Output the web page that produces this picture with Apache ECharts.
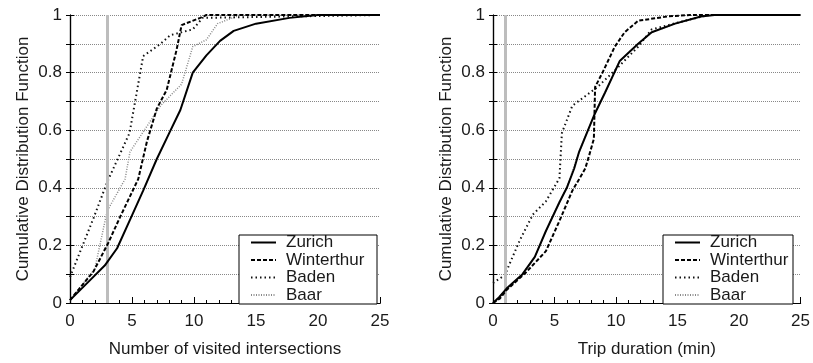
<!DOCTYPE html>
<html><head><meta charset="utf-8">
<script src="https://cdn.jsdelivr.net/npm/echarts@6/dist/echarts.min.js"></script>
<style>html,body{margin:0;padding:0;background:#fff}#c{width:813px;height:363px}</style>
</head><body><div id="c"></div>
<script>
// ---- Data: left panel (Number of visited intersections)
const seriesNames = ['Zurich', 'Winterthur', 'Baden', 'Baar'];
const xTicks = [0, 5, 10, 15, 20, 25];
const yTicks = [0, 0.2, 0.4, 0.6, 0.8, 1];

const zurichX1 = [0, 1.4, 2.8, 3.8, 4.8, 5.9, 7.0, 8.0, 8.9, 9.9, 11.0, 12.1, 13.2, 15.0, 17.7, 20, 25];
const zurichY1 = [0.01, 0.07, 0.13, 0.19, 0.285, 0.39, 0.50, 0.59, 0.67, 0.80, 0.86, 0.91, 0.945, 0.97, 0.99, 1, 1];
const winterX1 = [0, 1.9, 3.1, 4.0, 5.5, 6.2, 7.0, 7.8, 8.6, 9.0, 10.5, 11, 25];
const winterY1 = [0.01, 0.11, 0.21, 0.295, 0.43, 0.56, 0.675, 0.74, 0.88, 0.965, 0.99, 1, 1];
const badenX1 = [0, 1.9, 3.0, 4.8, 5.9, 7.3, 8.1, 9.9, 10.7, 25];
const badenY1 = [0.09, 0.295, 0.42, 0.59, 0.857, 0.90, 0.93, 0.95, 0.99, 1];
const baarX1 = [0, 2.0, 3.0, 4.44, 4.84, 7.3, 9.0, 9.9, 11.0, 11.9, 13.4, 13.7, 25];
const baarY1 = [0.01, 0.118, 0.32, 0.43, 0.525, 0.685, 0.76, 0.89, 0.914, 0.97, 0.995, 1, 1];
const refLine1 = 3;

// ---- Data: right panel (Trip duration (min))
const zurichX2 = [0, 0.5, 1.1, 2.4, 3.4, 4.3, 5.4, 6.0, 6.6, 7.0, 8.2, 9.1, 10.3, 11.8, 12.9, 14.8, 16.9, 18, 25];
const zurichY2 = [0, 0.02, 0.05, 0.10, 0.16, 0.25, 0.35, 0.40, 0.467, 0.525, 0.65, 0.73, 0.84, 0.90, 0.94, 0.97, 0.995, 1, 1];
const winterX2 = [0, 0.55, 1.1, 2.7, 4.3, 5.4, 6.45, 7.0, 7.5, 7.8, 8.2, 8.3, 8.9, 9.9, 10.7, 11.8, 14.2, 16, 25];
const winterY2 = [0, 0.015, 0.045, 0.107, 0.18, 0.285, 0.39, 0.43, 0.467, 0.51, 0.57, 0.75, 0.80, 0.89, 0.94, 0.98, 0.995, 1, 1];
const badenX2 = [0, 0.96, 1.23, 2.17, 3.24, 4.3, 5.4, 5.6, 6.45, 8.5, 10.2, 11.8, 12.9, 15.6, 17.5, 25];
const badenY2 = [0.07, 0.096, 0.124, 0.217, 0.307, 0.353, 0.433, 0.59, 0.685, 0.75, 0.82, 0.89, 0.95, 0.98, 1, 1];
const baarX2 = [0, 0.5, 1.1, 2.4, 3.4, 4.3, 5.4, 6.0, 7.0, 8.2, 9.1, 10.3, 11.8, 12.9, 14.8, 16.9, 18, 25];
const baarY2 = [0, 0.02, 0.05, 0.10, 0.16, 0.25, 0.35, 0.40, 0.525, 0.65, 0.73, 0.84, 0.90, 0.94, 0.97, 0.995, 1, 1];
const refLine2 = 1;

const xTitles = ['Number of visited intersections', 'Trip duration (min)'];
const yTitle = 'Cumulative Distribution Function';

// ---- Build
const zip = (xs, ys) => xs.map((x, i) => [x, ys[i]]);
const FONT = 'Liberation Sans, Arial, sans-serif';
const TXT = '#1a1a1a';
const styles = {
  Zurich: { color: '#000', width: 2, type: 'solid', z: 6 },
  Winterthur: { color: '#000', width: 2, type: [4, 2], z: 5 },
  Baden: { color: '#111', width: 2, type: [1.5, 3], z: 4 },
  Baar: { color: '#8a8a8a', width: 1.5, type: [1, 1.5], z: 3 }
};
const panels = [
  { data: { Zurich: zip(zurichX1, zurichY1), Winterthur: zip(winterX1, winterY1), Baden: zip(badenX1, badenY1), Baar: zip(baarX1, baarY1) }, ref: refLine1 },
  { data: { Zurich: zip(zurichX2, zurichY2), Winterthur: zip(winterX2, winterY2), Baden: zip(badenX2, badenY2), Baar: zip(baarX2, baarY2) }, ref: refLine2 }
];
const grids = [
  { left: 70, width: 310, top: 15, height: 291 },
  { left: 493, width: 311, top: 15, height: 291 }
];
const xAxes = [], yAxes = [], series = [], legends = [], graphics = [];
const yFmt = v => (v === 0 ? '0' : v === 1 ? '1' : v.toFixed(1));
grids.forEach((g, i) => {
  xAxes.push({
    gridIndex: i, type: 'value', min: xTicks[0], max: xTicks[xTicks.length - 1], interval: xTicks[1] - xTicks[0],
    name: xTitles[i], nameLocation: 'middle', nameGap: 38,
    nameTextStyle: { fontFamily: FONT, fontSize: 17, color: TXT },
    axisLine: { lineStyle: { color: '#000', width: 1.2 } },
    axisTick: { inside: true, length: 6, lineStyle: { color: '#000' } },
    minorTick: { show: true, splitNumber: 5, length: 3, lineStyle: { color: '#000' } },
    axisLabel: { fontFamily: FONT, fontSize: 17, color: TXT, margin: 10 },
    splitLine: { show: false }
  });
  xAxes.push({
    gridIndex: i, type: 'value', position: 'top', min: xTicks[0], max: xTicks[xTicks.length - 1], interval: 5,
    axisLine: { lineStyle: { color: '#000', width: 1.2 } }, axisTick: { show: false }, axisLabel: { show: false }, splitLine: { show: false }
  });
  yAxes.push({
    gridIndex: i, type: 'value', min: yTicks[0], max: yTicks[yTicks.length - 1], interval: 0.2,
    name: yTitle, nameLocation: 'middle', nameGap: 38, nameRotate: 90,
    nameTextStyle: { fontFamily: FONT, fontSize: 17, color: TXT },
    axisLine: { show: true, lineStyle: { color: '#000', width: 1.2 } },
    axisTick: { show: true, inside: true, length: 4, lineStyle: { color: '#000' } },
    minorTick: { show: true, splitNumber: 2, length: 4, lineStyle: { color: '#000' } },
    axisLabel: { fontFamily: FONT, fontSize: 17, color: TXT, margin: 8, formatter: yFmt },
    splitLine: { show: true, lineStyle: { color: '#888', type: [1, 1], width: 1 } },
    minorSplitLine: { show: true, lineStyle: { color: '#888', type: [1, 1], width: 1 } }
  });
  yAxes.push({
    gridIndex: i, type: 'value', position: 'right', min: 0, max: 1, interval: 0.2,
    axisLine: { show: true, lineStyle: { color: '#000', width: 1.2 } },
    axisTick: { show: true, inside: true, length: 4, lineStyle: { color: '#000' } },
    minorTick: { show: true, splitNumber: 2, length: 4, lineStyle: { color: '#000' } },
    axisLabel: { show: false }, splitLine: { show: false }
  });
  const p = panels[i];
  ['Baar', 'Baden', 'Winterthur', 'Zurich'].forEach((n, k) => {
    const s = styles[n];
    const ser = {
      name: n, type: 'line', xAxisIndex: i * 2, yAxisIndex: i * 2, data: p.data[n],
      symbol: 'none', showSymbol: false, z: s.z, silent: true, animation: false,
      lineStyle: { color: s.color, width: s.width, type: s.type }, itemStyle: { color: s.color }
    };
    if (k === 0) {
      ser.markLine = {
        silent: true, symbol: 'none', label: { show: false }, animation: false,
        lineStyle: { color: '#bdbdbd', width: 3, type: 'solid' },
        data: [{ xAxis: p.ref }]
      };
    }
    series.push(ser);
  });
  const lx = i === 0 ? 239 : 663;
  const lw = i === 0 ? 138 : 130;
  graphics.push({ type: 'rect', z: 10, shape: { x: lx, y: 235, width: lw, height: 69 },
    style: { fill: '#fff', stroke: '#000', lineWidth: 1 } });
  legends.push({
    orient: 'vertical', left: lx + 11, top: 234, padding: 0, itemGap: 0.5, itemWidth: 25, itemHeight: 14, z: 20,
    selectedMode: false, data: seriesNames,
    itemStyle: { opacity: 0, borderWidth: 0 },
    textStyle: { fontFamily: FONT, fontSize: 17, color: TXT, lineHeight: 14, padding: [0, 0, 0, 5] }
  });
});

const chart = echarts.init(document.getElementById('c'), null, { renderer: 'canvas' });
chart.setOption({
  animation: false, backgroundColor: '#fff',
  grid: grids.map(g => Object.assign({ show: false }, g)),
  xAxis: xAxes, yAxis: yAxes, series: series, legend: legends, graphic: graphics
});
</script></body></html>
